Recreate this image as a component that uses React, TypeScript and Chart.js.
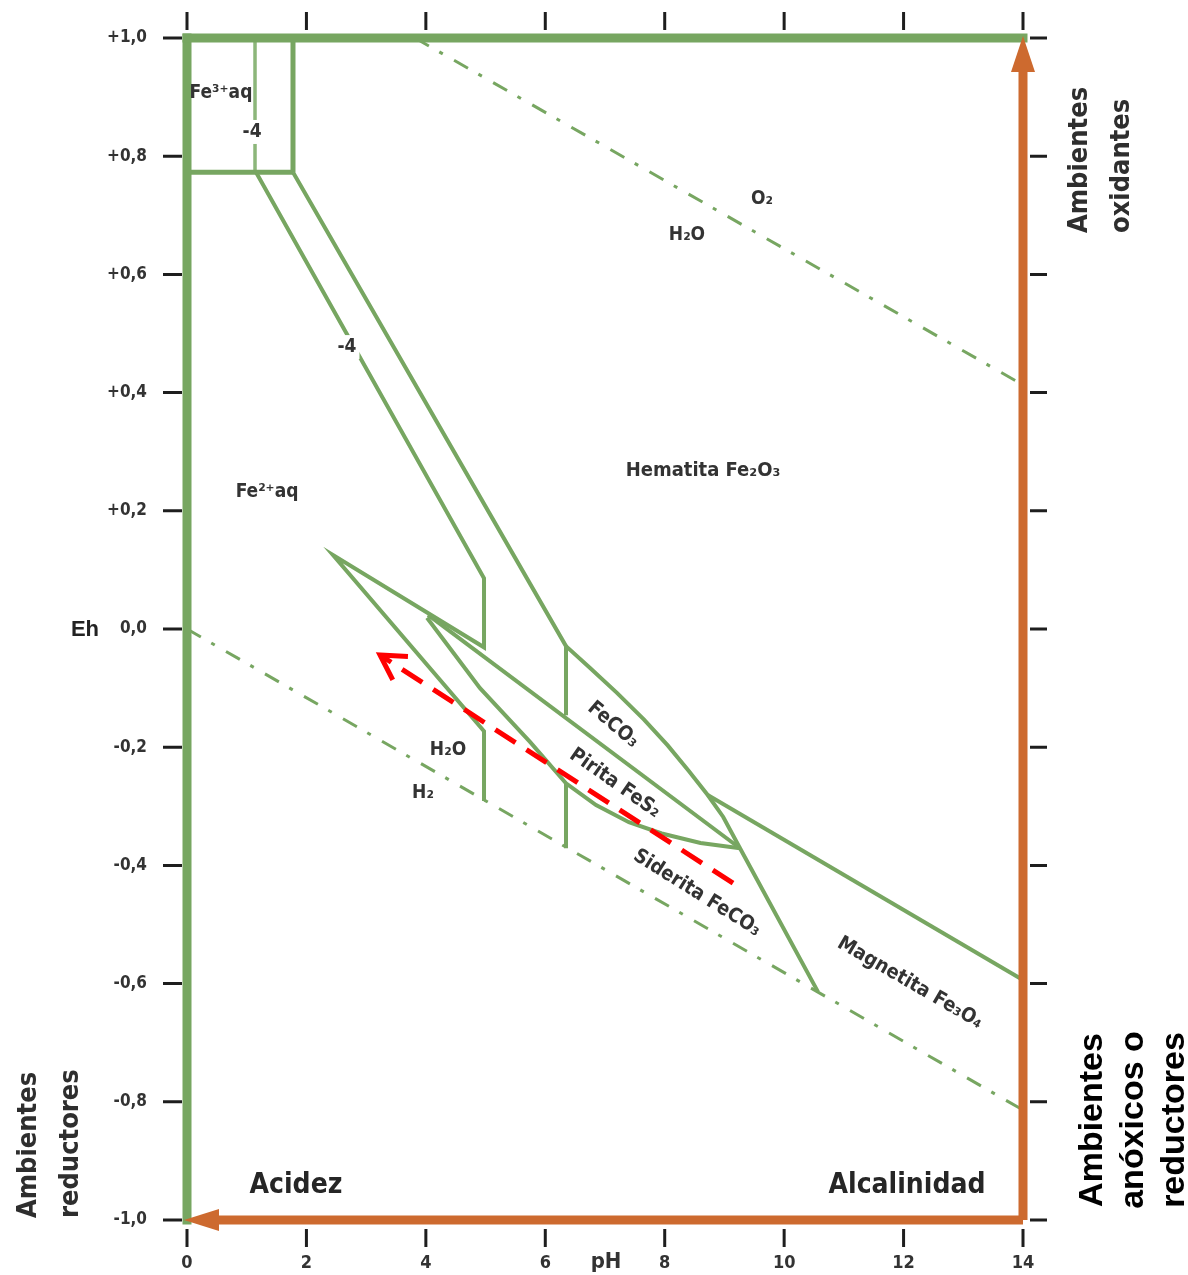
import React, { useEffect, useRef } from "react";
import { Chart, registerables } from "chart.js";
Chart.register(...registerables);

// ---- axis ticks ----
const X_TICKS = [0, 2, 4, 6, 8, 10, 12, 14];
const Y_TICKS = [1.0, 0.8, 0.6, 0.4, 0.2, 0.0, -0.2, -0.4, -0.6, -0.8, -1.0];
const Y_TICK_LABELS = ["+1,0", "+0,8", "+0,6", "+0,4", "+0,2", "0,0", "-0,2", "-0,4", "-0,6", "-0,8", "-1,0"];

// ---- frame (pH, Eh) ----
const FRAME_TOP = [{ x: 0, y: 1.0 }, { x: 14, y: 1.0 }];
const FRAME_LEFT = [{ x: 0, y: -1.0 }, { x: 0, y: 1.0 }];
const OXID_ARROW = [{ x: 14, y: -1.0 }, { x: 14, y: 0.95 }];
const ACID_ARROW = [{ x: 14, y: -1.0 }, { x: 0.4, y: -1.0 }];

// ---- stability boundaries (pH, Eh) ----
const FE3_BOTTOM = [{ x: 0, y: 0.773 }, { x: 1.775, y: 0.773 }];
const FE3_LIGHT = [{ x: 1.139, y: 1.0 }, { x: 1.139, y: 0.773 }];
const FE3_RIGHT = [{ x: 1.775, y: 1.0 }, { x: 1.775, y: 0.773 }];
const FE2_HEM_A = [
  { x: 1.156, y: 0.773 }, { x: 4.974, y: 0.086 }, { x: 4.974, y: -0.031 }, { x: 2.445, y: 0.125 },
  { x: 4.974, y: -0.173 }, { x: 4.974, y: -0.291 },
];
const FE2_HEM_B = [{ x: 1.775, y: 0.773 }, { x: 6.347, y: -0.029 }, { x: 6.347, y: -0.146 }];
const SID_LOWER_VERT = [{ x: 6.347, y: -0.261 }, { x: 6.347, y: -0.371 }];
const FECO3_UPPER = [
  { x: 6.347, y: -0.029 }, { x: 6.75, y: -0.066 }, { x: 7.2, y: -0.108 }, { x: 7.65, y: -0.153 },
  { x: 8.05, y: -0.197 }, { x: 8.4, y: -0.24 }, { x: 8.72, y: -0.281 }, { x: 8.98, y: -0.318 },
  { x: 9.261, y: -0.371 }, { x: 10.567, y: -0.614 },
];
const MAGNETITE_UPPER = [{ x: 8.72, y: -0.281 }, { x: 14, y: -0.594 }];
const PYRITE_UPPER = [{ x: 4.036, y: 0.024 }, { x: 9.261, y: -0.371 }];
const PYRITE_LOWER = [
  { x: 4.019, y: 0.019 }, { x: 4.907, y: -0.1 }, { x: 5.744, y: -0.191 }, { x: 6.347, y: -0.261 },
  { x: 6.85, y: -0.298 }, { x: 7.4, y: -0.327 }, { x: 7.95, y: -0.346 }, { x: 8.6, y: -0.362 },
  { x: 9.261, y: -0.371 },
];
// water stability limits
const O2_H2O = [{ x: 3.818, y: 1.0 }, { x: 14, y: 0.413 }];
const H2O_H2 = [{ x: 0, y: 0.0 }, { x: 14, y: -0.814 }];
// red trend arrow
const RED_TREND = [{ x: 9.144, y: -0.43 }, { x: 3.232, y: -0.044 }];

// ---- in-plot labels (pH, Eh, text, angle) ----
const PLOT_LABELS: [number, number, string, number][] = [
  [0.569, 0.907, "Fe³⁺aq", 0],
  [9.629, 0.728, "O₂", 0],
  [8.373, 0.667, "H₂O", 0],
  [8.641, 0.267, "Hematita Fe₂O₃", 0],
  [1.34, 0.232, "Fe²⁺aq", 0],
  [4.371, -0.205, "H₂O", 0],
  [3.952, -0.278, "H₂", 0],
  [7.134, -0.162, "FeCO₃", 40],
  [7.167, -0.261, "Pirita FeS₂", 35],
  [8.541, -0.447, "Siderita FeCO₃", 32],
  [12.108, -0.599, "Magnetita Fe₃O₄", 30],
];
const BOXED_LABELS: [number, number, string][] = [
  [1.089, 0.841, "-4"],
  [2.679, 0.477, "-4"],
];
const CORNER_LABELS: [number, number, string][] = [
  [1.825, -0.942, "Acidez"],
  [12.057, -0.942, "Alcalinidad"],
];

const GREEN = "#77a661";
const ORANGE = "#cd6a2f";
const RED = "#ff0000";
const COND = '"DejaVu Sans Condensed", "DejaVu Sans", sans-serif';

const decor = {
  id: "decor",
  afterDatasetsDraw(chart: any) {
    const { ctx, chartArea: ca } = chart;
    const xs = chart.scales.x, ys = chart.scales.y;
    const X = (v: number) => xs.getPixelForValue(v);
    const Y = (v: number) => ys.getPixelForValue(v);
    ctx.save();

    // orange arrowheads
    ctx.fillStyle = ORANGE;
    const tx = X(14), ty = Y(1.0);
    ctx.beginPath();
    ctx.moveTo(tx, ty - 2);
    ctx.lineTo(tx + 12, ty + 34);
    ctx.lineTo(tx - 12, ty + 34);
    ctx.closePath();
    ctx.fill();
    const bx = X(0), by = Y(-1.0);
    ctx.beginPath();
    ctx.moveTo(bx - 3, by);
    ctx.lineTo(bx + 32, by - 11);
    ctx.lineTo(bx + 32, by + 11);
    ctx.closePath();
    ctx.fill();

    // red arrow chevron
    const rx = X(RED_TREND[1].x), ry = Y(RED_TREND[1].y);
    const sx = X(RED_TREND[0].x), sy = Y(RED_TREND[0].y);
    const ang = Math.atan2(sy - ry, sx - rx);
    ctx.strokeStyle = RED;
    ctx.lineWidth = 5;
    ctx.lineCap = "butt";
    ctx.lineJoin = "miter";
    ctx.beginPath();
    const arm = 28, spread = (30 * Math.PI) / 180;
    ctx.moveTo(rx + arm * Math.cos(ang - spread), ry + arm * Math.sin(ang - spread));
    ctx.lineTo(rx, ry);
    ctx.lineTo(rx + arm * Math.cos(ang + spread), ry + arm * Math.sin(ang + spread));
    ctx.stroke();

    // ticks
    ctx.strokeStyle = "#1e1e1e";
    ctx.lineWidth = 3;
    ctx.beginPath();
    for (const v of Y_TICKS) {
      const py = Y(v);
      ctx.moveTo(ca.left - 24, py); ctx.lineTo(ca.left - 5, py);
      ctx.moveTo(ca.right + 7, py); ctx.lineTo(ca.right + 24, py);
    }
    for (const v of X_TICKS) {
      const px = X(v);
      ctx.moveTo(px, ca.top - 26); ctx.lineTo(px, ca.top - 8);
      ctx.moveTo(px, ca.bottom + 9); ctx.lineTo(px, ca.bottom + 27);
    }
    ctx.stroke();

    // tick labels
    ctx.fillStyle = "#333";
    ctx.font = `bold 17px ${COND}`;
    ctx.textAlign = "right";
    ctx.textBaseline = "middle";
    Y_TICKS.forEach((v, i) => ctx.fillText(Y_TICK_LABELS[i], ca.left - 40, Y(v)));
    ctx.textAlign = "center";
    ctx.font = `bold 18px ${COND}`;
    X_TICKS.forEach((v) => ctx.fillText(String(v), X(v), ca.bottom + 43));

    // axis titles
    ctx.fillStyle = "#222";
    ctx.font = 'bold 22px "Liberation Sans", Arial, sans-serif';
    ctx.textAlign = "center";
    ctx.fillText("Eh", 85, Y(0) + 1);
    ctx.fillStyle = "#333";
    ctx.font = `bold 22px ${COND}`;
    ctx.fillText("pH", 606, ca.bottom + 42);

    // in-plot labels
    ctx.fillStyle = "#333";
    for (const [px, py, t, a] of PLOT_LABELS) {
      ctx.font = `bold ${a !== 0 || t.length > 10 ? 20 : 19}px ${COND}`;
      ctx.save();
      ctx.translate(X(px), Y(py));
      ctx.rotate((a * Math.PI) / 180);
      ctx.fillText(t, 0, 0);
      ctx.restore();
    }
    ctx.font = `bold 19px ${COND}`;
    for (const [px, py, t] of BOXED_LABELS) {
      const w = ctx.measureText(t).width;
      ctx.fillStyle = "#fff";
      ctx.fillRect(X(px) - w / 2 - 3, Y(py) - 12, w + 6, 24);
      ctx.fillStyle = "#333";
      ctx.fillText(t, X(px), Y(py));
    }
    ctx.font = `bold 28px ${COND}`;
    ctx.fillStyle = "#262626";
    for (const [px, py, t] of CORNER_LABELS) ctx.fillText(t, X(px), Y(py));

    // side captions (rotated)
    const vtext = (t: string, x: number, y: number, font: string, color: string, align: CanvasTextAlign) => {
      ctx.save();
      ctx.translate(x, y);
      ctx.rotate(-Math.PI / 2);
      ctx.font = font;
      ctx.fillStyle = color;
      ctx.textAlign = align;
      ctx.textBaseline = "alphabetic";
      ctx.fillText(t, 0, 0);
      ctx.restore();
    };
    const sideFont = `bold 27px ${COND}`;
    vtext("Ambientes", 1087, 233, sideFont, "#2e2e2e", "left");
    vtext("oxidantes", 1129, 233, sideFont, "#2e2e2e", "left");
    vtext("Ambientes", 36, 1218, sideFont, "#2e2e2e", "left");
    vtext("reductores", 78, 1218, sideFont, "#2e2e2e", "left");
    const bigFont = 'bold 34px "Liberation Sans", Arial, sans-serif';
    vtext("Ambientes", 1102, 1120, bigFont, "#000", "center");
    vtext("anóxicos o", 1143, 1120, bigFont, "#000", "center");
    vtext("reductores", 1184, 1120, bigFont, "#000", "center");

    ctx.restore();
  },
};

function lineDs(data: any[], color: string, width: number, order: number, extra: any = {}) {
  return {
    type: "line",
    data,
    borderColor: color,
    borderWidth: width,
    pointRadius: 0,
    showLine: true,
    fill: false,
    tension: 0,
    clip: false,
    order,
    borderJoinStyle: "miter",
    ...extra,
  };
}

export default function App() {
  const ref = useRef<HTMLCanvasElement>(null);
  useEffect(() => {
    if (!ref.current) return;
    const dash = [16, 12, 4, 13];
    const chart = new Chart(ref.current, {
      type: "scatter",
      data: {
        datasets: [
          lineDs(OXID_ARROW, ORANGE, 9, 0),
          lineDs(ACID_ARROW, ORANGE, 9, 0),
          lineDs(RED_TREND, RED, 5, 1, { borderDash: [24, 13] }),
          lineDs(FRAME_TOP, GREEN, 9, 3, { borderCapStyle: "square" }),
          lineDs(FRAME_LEFT, GREEN, 9, 3, { borderCapStyle: "square" }),
          lineDs(FE3_BOTTOM, GREEN, 5, 4),
          lineDs(FE3_LIGHT, "#8cb67a", 3.5, 4),
          lineDs(FE3_RIGHT, GREEN, 5, 4),
          lineDs(FE2_HEM_A, GREEN, 4, 4),
          lineDs(FE2_HEM_B, GREEN, 4, 4),
          lineDs(SID_LOWER_VERT, GREEN, 4, 4),
          lineDs(FECO3_UPPER, GREEN, 4, 4),
          lineDs(MAGNETITE_UPPER, GREEN, 4, 4),
          lineDs(PYRITE_UPPER, GREEN, 4, 4),
          lineDs(PYRITE_LOWER, GREEN, 4, 4),
          lineDs(O2_H2O, GREEN, 3, 5, { borderDash: dash }),
          lineDs(H2O_H2, GREEN, 3, 5, { borderDash: dash }),
        ] as any,
      },
      options: {
        animation: false,
        responsive: false,
        maintainAspectRatio: false,
        layout: { padding: { left: 187, right: 165, top: 38, bottom: 55 } },
        plugins: { legend: { display: false }, tooltip: { enabled: false } },
        events: [],
        scales: {
          x: { type: "linear", min: 0, max: 14, display: false },
          y: { type: "linear", min: -1, max: 1, display: false },
        },
      },
      plugins: [decor],
    });
    return () => chart.destroy();
  }, []);
  return (
    <div style={{ position: "absolute", left: 0, top: 0, width: 1188, height: 1275, background: "#fff" }}>
      <canvas ref={ref} width={1188} height={1275} style={{ display: "block", width: 1188, height: 1275 }} />
    </div>
  );
}
